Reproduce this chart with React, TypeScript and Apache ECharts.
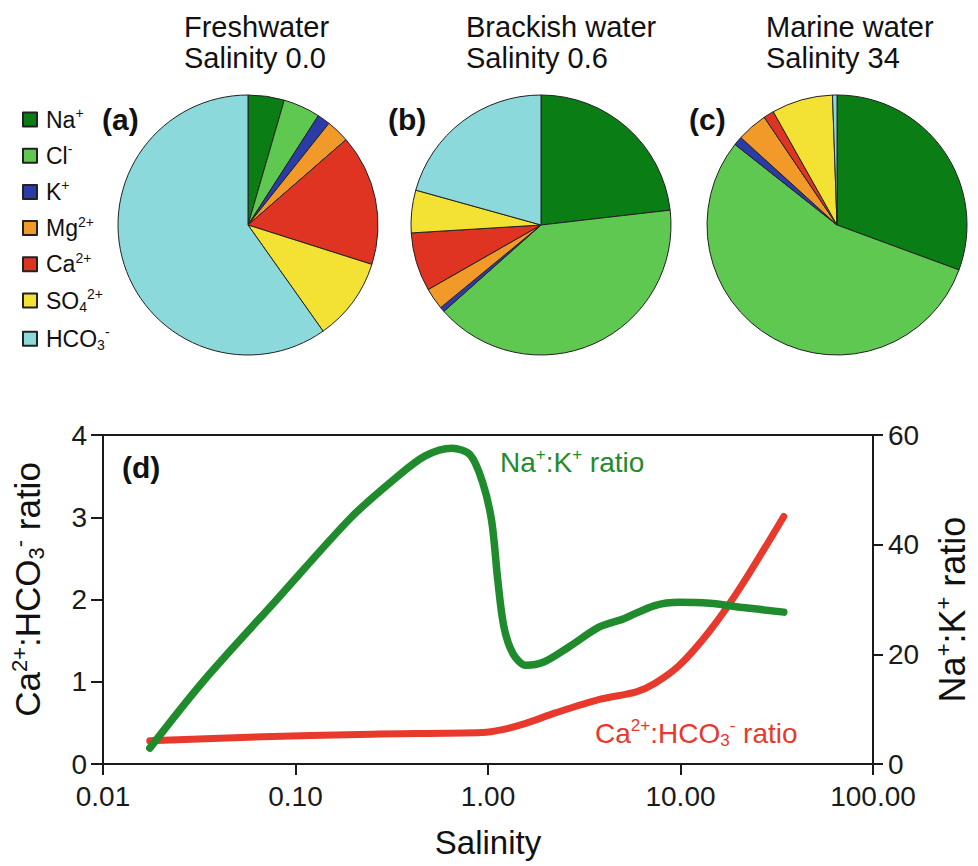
import React, { useEffect, useRef } from "react";
import * as echarts from "echarts";

const FONT = "Liberation Sans, Arial, Helvetica, sans-serif";

// Ion categories (pie slices, clockwise from 12 o'clock)
const ions = ["Na+", "Cl-", "K+", "Mg2+", "Ca2+", "SO42+", "HCO3-"];
const ionLabels = [
  "{n|Na}{p|+}",
  "{n|Cl}{p|-}",
  "{n|K}{p|+}",
  "{n|Mg}{p|2+}",
  "{n|Ca}{p|2+}",
  "{n|SO}{s|4}{p|2+}",
  "{n|HCO}{s|3}{p|-}",
];
const ionColors = ["#0b7d15", "#5ec851", "#2b3ca6", "#f29a29", "#e03423", "#f3e233", "#8bd9db"];

// Percent composition
const freshwater = [4.5, 4.6, 1.6, 2.9, 16.3, 10.3, 59.8];
const brackish = [23.2, 40.3, 0.6, 2.7, 7.3, 5.3, 20.7];
const marine = [30.6, 55.0, 1.1, 3.8, 1.3, 7.6, 0.55];

const pieTitles = ["Freshwater\nSalinity 0.0", "Brackish water\nSalinity 0.6", "Marine water\nSalinity 34"];
const panelLabels = ["(a)", "(b)", "(c)", "(d)"];

// Panel (d) curves
const salinityNaK = [0.0175, 0.0332, 0.0805, 0.195, 0.332, 0.472, 0.649, 0.807, 0.935, 1.045, 1.125, 1.21, 1.35, 1.57, 1.95, 2.62, 3.79, 5.08, 7.34, 9.87, 14.2, 20.5, 34.4];
const naKRatio = [2.9, 15.1, 30.1, 45.0, 52.2, 56.2, 57.6, 56.4, 51.5, 44.3, 33.4, 25.0, 20.1, 18.0, 18.6, 21.3, 25.0, 26.5, 28.9, 29.5, 29.3, 28.6, 27.7];
const salinityCa = [0.0175, 0.0571, 0.249, 0.935, 1.17, 1.57, 2.26, 3.79, 5.89, 7.34, 9.87, 14.2, 20.5, 34.4];
const caHco3Ratio = [0.282, 0.326, 0.363, 0.383, 0.415, 0.495, 0.624, 0.785, 0.878, 0.979, 1.2, 1.62, 2.15, 3.01];

const leftTicks = { min: 0, max: 4, interval: 1 };
const rightTicks = { min: 0, max: 60, interval: 20 };

const greenLine = "#1f8b2c";
const redLine = "#e8392d";

export default function App() {
  const ref = useRef<HTMLDivElement>(null);
  useEffect(() => {
    if (!ref.current) return;
    const chart = echarts.init(ref.current, undefined, { renderer: "svg" });
    const pieCenters = [[248, 225], [541, 225], [837, 225]];
    const pieSets = [freshwater, brackish, marine];
    const titleLefts = [184, 466, 766];
    const labelPos = [[102, 119], [388, 119], [689, 119], [122, 467]];

    // rich styles for ECharts components (use "color")
    const supRich = (size: number, color: string) => ({
      n: { fontSize: size, lineHeight: size + 4, color, fontFamily: FONT },
      b: { fontSize: size, lineHeight: size + 4, color, fontFamily: FONT },
      p: { fontSize: Math.round(size * 0.62), lineHeight: Math.round(size * 0.62), verticalAlign: "top", color, fontFamily: FONT },
      s: { fontSize: Math.round(size * 0.62), lineHeight: Math.round(size * 0.62), verticalAlign: "bottom", color, fontFamily: FONT },
    });
    // rich styles for graphic texts (use "fill")
    const supRichG = (size: number, fill: string) => ({
      b: { fontSize: size, lineHeight: size + 4, fill, fontFamily: FONT },
      p: { fontSize: Math.round(size * 0.62), lineHeight: Math.round(size * 0.62), verticalAlign: "top", fill, fontFamily: FONT },
      s: { fontSize: Math.round(size * 0.62), lineHeight: Math.round(size * 0.62), verticalAlign: "bottom", fill, fontFamily: FONT },
    });

    const option: any = {
      animation: false,
      backgroundColor: "#ffffff",
      title: pieTitles.map((t, i) => ({
        text: t,
        left: titleLefts[i],
        top: 11,
        padding: 0,
        textStyle: { fontSize: 29, fontWeight: "normal", lineHeight: 31, color: "#111", fontFamily: FONT },
      })),
      legend: {
        orient: "vertical",
        left: 17,
        top: 101,
        itemWidth: 14,
        itemHeight: 14,
        itemGap: 11.2,
        icon: "rect",
        data: ions,
        formatter: (name: string) => ionLabels[ions.indexOf(name)],
        textStyle: { padding: [0, 0, 0, 4], rich: supRich(23, "#111") },
        selectedMode: false,
      },
      grid: {
        left: 102,
        right: 95,
        top: 435,
        bottom: 102,
        show: true,
        borderColor: "#1a1a1a",
        borderWidth: 2,
        backgroundColor: "transparent",
      },
      xAxis: {
        type: "log",
        logBase: 10,
        min: 0.01,
        max: 100,
        name: "Salinity",
        nameLocation: "middle",
        nameGap: 62,
        nameTextStyle: { fontSize: 33, color: "#111", fontFamily: FONT },
        axisLine: { lineStyle: { color: "#1a1a1a", width: 2 } },
        axisTick: { length: 11, lineStyle: { color: "#1a1a1a", width: 2 } },
        axisLabel: { fontSize: 28, color: "#1a1a1a", margin: 18, fontFamily: FONT, formatter: (v: number) => Number(v).toFixed(2) },
        splitLine: { show: false },
        minorTick: { show: false },
      },
      yAxis: [
        {
          type: "value",
          position: "left",
          ...leftTicks,
          name: "{b|Ca}{p|2+}{b|:HCO}{s|3}{p|-}{b| ratio}",
          nameLocation: "middle",
          nameRotate: 90,
          nameGap: 56,
          nameTextStyle: { padding: [0, 0, 0, 20], rich: supRich(35, "#111") },
          axisLine: { show: true, lineStyle: { color: "#1a1a1a", width: 2 } },
          axisTick: { show: true, length: 12, lineStyle: { color: "#1a1a1a", width: 2 } },
          axisLabel: { fontSize: 28, color: "#1a1a1a", margin: 16, fontFamily: FONT },
          splitLine: { show: false },
        },
        {
          type: "value",
          position: "right",
          ...rightTicks,
          name: "{b|Na}{p|+}{b|:K}{p|+}{b| ratio}",
          nameLocation: "middle",
          nameRotate: 90,
          nameGap: 59,
          nameTextStyle: { padding: [0, 20, 0, 0], rich: supRich(36, "#111") },
          axisLine: { show: true, lineStyle: { color: "#1a1a1a", width: 2 } },
          axisTick: { show: true, length: 10, lineStyle: { color: "#1a1a1a", width: 2 } },
          axisLabel: { fontSize: 28, color: "#1a1a1a", margin: 15, fontFamily: FONT },
          splitLine: { show: false },
        },
      ],
      series: [
        ...pieSets.map((vals, i) => ({
          type: "pie",
          name: pieTitles[i],
          center: pieCenters[i],
          radius: 130,
          startAngle: 90,
          clockwise: true,
          label: { show: false },
          labelLine: { show: false },
          emphasis: { disabled: true },
          itemStyle: { borderColor: "#222", borderWidth: 1 },
          data: vals.map((v, j) => ({ name: ions[j], value: v, itemStyle: { color: ionColors[j] } })),
        })),
        {
          type: "line",
          name: "Ca:HCO3",
          yAxisIndex: 0,
          smooth: 0.3,
          showSymbol: false,
          symbol: "none",
          lineStyle: { color: redLine, width: 7, cap: "round" },
          data: salinityCa.map((s, i) => [s, caHco3Ratio[i]]),
          z: 3,
        },
        {
          type: "line",
          name: "Na:K",
          yAxisIndex: 1,
          smooth: 0.3,
          showSymbol: false,
          symbol: "none",
          lineStyle: { color: greenLine, width: 7.5, cap: "round" },
          data: salinityNaK.map((s, i) => [s, naKRatio[i]]),
          z: 4,
        },
      ],
      graphic: [
        ...panelLabels.map((t, i) => ({
          type: "text",
          style: {
            text: t,
            x: labelPos[i][0],
            y: labelPos[i][1],
            verticalAlign: "middle",
            fontSize: 30,
            fontWeight: "bold",
            fontFamily: FONT,
            fill: "#111",
          },
          z: 10,
        })),
        {
          type: "text",
          style: {
            text: "{b|Na}{p|+}{b|:K}{p|+}{b| ratio}",
            x: 500,
            y: 462,
            verticalAlign: "middle",
            rich: supRichG(28, greenLine),
          },
          z: 10,
        },
        {
          type: "text",
          style: {
            text: "{b|Ca}{p|2+}{b|:HCO}{s|3}{p|-}{b| ratio}",
            x: 595,
            y: 733,
            verticalAlign: "middle",
            rich: supRichG(28, redLine),
          },
          z: 10,
        },
      ],
    };
    chart.setOption(option);
    return () => chart.dispose();
  }, []);
  return <div ref={ref} style={{ position: "fixed", left: 0, top: 0, width: 978, height: 866 }} />;
}
